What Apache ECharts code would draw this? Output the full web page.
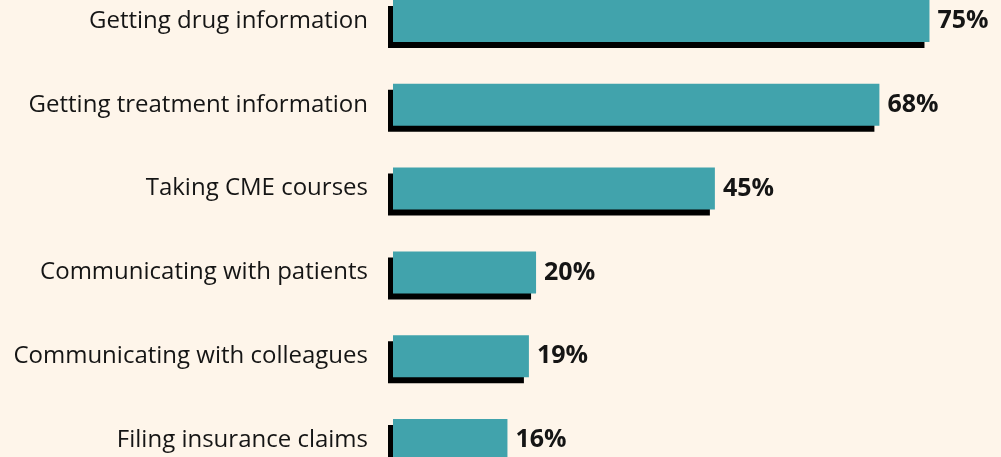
<!DOCTYPE html>
<html><head><meta charset="utf-8">
<script src="https://cdn.jsdelivr.net/npm/echarts@6/dist/echarts.min.js"></script>
<style>html,body{margin:0;padding:0;background:#fef5ea;overflow:hidden;}#c{position:absolute;left:0;top:-21px;width:1001px;height:503px;}</style>
</head><body><div id="c"></div>
<script>
const categories = ["Getting drug information","Getting treatment information","Taking CME courses","Communicating with patients","Communicating with colleagues","Filing insurance claims"];
const values = [75, 68, 45, 20, 19, 16];

const chart = echarts.init(document.getElementById('c'), null, {renderer:'canvas'});
chart.setOption({
  backgroundColor: '#fef5ea',
  animation: false,
  grid: {left: 393, right: 0, top: 0, bottom: 0, containLabel: false},
  xAxis: {type: 'value', min: 0, max: 85, show: false},
  yAxis: {
    type: 'category', data: categories, inverse: true,
    axisLine: {show: false}, axisTick: {show: false},
    axisLabel: {margin: 25, fontFamily: 'Open Sans', fontSize: 24, color: '#151515'}
  },
  series: [{
    type: 'bar', data: values, barWidth: 42,
    itemStyle: {color: '#41a3ac', shadowColor: '#000', shadowBlur: 0, shadowOffsetX: -5, shadowOffsetY: 6},
    label: {show: true, position: 'right', distance: 8, formatter: '{c}%', fontFamily: 'Open Sans', fontWeight: 'bold', fontSize: 25, color: '#151515'}
  }]
});
</script></body></html>
